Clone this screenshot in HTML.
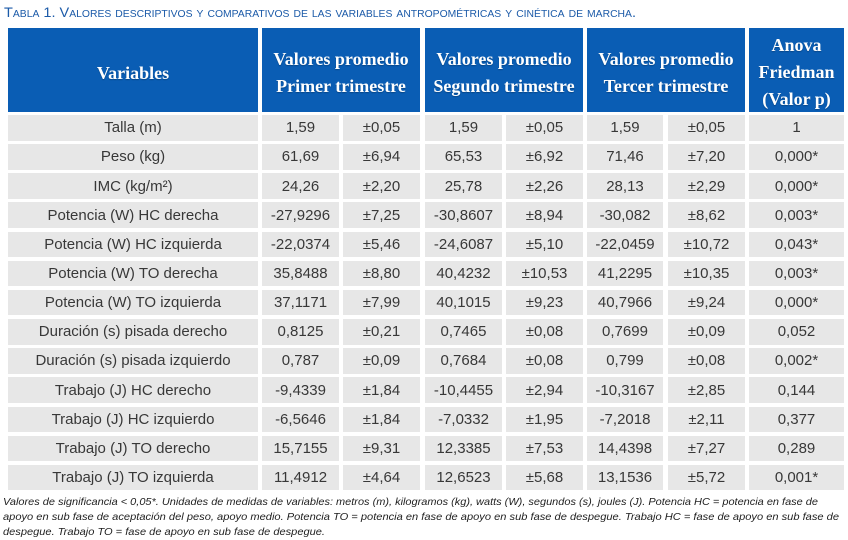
<!DOCTYPE html>
<html><head><meta charset="utf-8">
<style>
html,body{margin:0;padding:0;background:#fff;}
body{width:848px;height:540px;position:relative;overflow:hidden;}
.h{position:absolute;background:#0a5db4;color:#fff;font-family:"Liberation Serif","DejaVu Serif",serif;font-weight:bold;font-size:18px;line-height:26.5px;display:flex;align-items:center;justify-content:center;text-align:center;box-sizing:border-box;padding-top:5px;text-shadow:0 1px 1px rgba(0,0,0,0.25);top:28px;height:84px;white-space:nowrap;}
.r{position:absolute;left:0;width:848px;height:25.6px;}
.c{position:absolute;top:0;background:#e7e7e7;color:#383838;font-family:"Liberation Sans",sans-serif;font-size:15px;display:flex;align-items:center;justify-content:center;white-space:nowrap;height:25.6px;}
.c1{left:8px;width:250px;}
.c2{left:262px;width:77px;}
.c3{left:343px;width:77px;}
.c4{left:425px;width:77px;}
.c5{left:506px;width:77px;}
.c6{left:587px;width:76px;}
.c7{left:668px;width:77px;}
.c8{left:749px;width:95px;}
svg{position:absolute;left:0;top:0;}
</style></head><body>
<svg width="848" height="540">
<text x="4" y="17" fill="#1b5aa8" font-family="Liberation Sans, sans-serif" font-size="14" style="font-variant:small-caps" textLength="632" lengthAdjust="spacingAndGlyphs">Tabla 1. Valores descriptivos y comparativos de las variables antropométricas y cinética de marcha.</text>
<g font-family="Liberation Sans, sans-serif" font-size="10.5" font-style="italic" fill="#1e1e1e">
<text x="3" y="505" textLength="815" lengthAdjust="spacingAndGlyphs">Valores de significancia &lt; 0,05*. Unidades de medidas de variables: metros (m), kilogramos (kg), watts (W), segundos (s), joules (J). Potencia HC = potencia en fase de</text>
<text x="3" y="520" textLength="836" lengthAdjust="spacingAndGlyphs">apoyo en sub fase de aceptación del peso, apoyo medio. Potencia TO = potencia en fase de apoyo en sub fase de despegue. Trabajo HC = fase de apoyo en sub fase de</text>
<text x="3" y="535" textLength="322" lengthAdjust="spacingAndGlyphs">despegue. Trabajo TO = fase de apoyo en sub fase de despegue.</text>
</g>
</svg>

<div class="h" style="left:8px;width:250px;padding-top:6px;">Variables</div>
<div class="h" style="left:262px;width:158px;">Valores promedio<br>Primer trimestre</div>
<div class="h" style="left:425px;width:158px;">Valores promedio<br>Segundo trimestre</div>
<div class="h" style="left:587px;width:158px;">Valores promedio<br>Tercer trimestre</div>
<div class="h" style="left:749px;width:95px;line-height:27px;">Anova<br>Friedman<br>(Valor p)</div>

<div class="r" style="top:115px"><div class="c c1">Talla (m)</div><div class="c c2">1,59</div><div class="c c3">±0,05</div><div class="c c4">1,59</div><div class="c c5">±0,05</div><div class="c c6">1,59</div><div class="c c7">±0,05</div><div class="c c8">1</div></div>
<div class="r" style="top:144.15px"><div class="c c1">Peso (kg)</div><div class="c c2">61,69</div><div class="c c3">±6,94</div><div class="c c4">65,53</div><div class="c c5">±6,92</div><div class="c c6">71,46</div><div class="c c7">±7,20</div><div class="c c8">0,000*</div></div>
<div class="r" style="top:173.3px"><div class="c c1">IMC (kg/m²)</div><div class="c c2">24,26</div><div class="c c3">±2,20</div><div class="c c4">25,78</div><div class="c c5">±2,26</div><div class="c c6">28,13</div><div class="c c7">±2,29</div><div class="c c8">0,000*</div></div>
<div class="r" style="top:202.45px"><div class="c c1">Potencia (W) HC derecha</div><div class="c c2">-27,9296</div><div class="c c3">±7,25</div><div class="c c4">-30,8607</div><div class="c c5">±8,94</div><div class="c c6">-30,082</div><div class="c c7">±8,62</div><div class="c c8">0,003*</div></div>
<div class="r" style="top:231.6px"><div class="c c1">Potencia (W) HC izquierda</div><div class="c c2">-22,0374</div><div class="c c3">±5,46</div><div class="c c4">-24,6087</div><div class="c c5">±5,10</div><div class="c c6">-22,0459</div><div class="c c7">±10,72</div><div class="c c8">0,043*</div></div>
<div class="r" style="top:260.75px"><div class="c c1">Potencia (W) TO derecha</div><div class="c c2">35,8488</div><div class="c c3">±8,80</div><div class="c c4">40,4232</div><div class="c c5">±10,53</div><div class="c c6">41,2295</div><div class="c c7">±10,35</div><div class="c c8">0,003*</div></div>
<div class="r" style="top:289.9px"><div class="c c1">Potencia (W) TO izquierda</div><div class="c c2">37,1171</div><div class="c c3">±7,99</div><div class="c c4">40,1015</div><div class="c c5">±9,23</div><div class="c c6">40,7966</div><div class="c c7">±9,24</div><div class="c c8">0,000*</div></div>
<div class="r" style="top:319.05px"><div class="c c1">Duración (s) pisada derecho</div><div class="c c2">0,8125</div><div class="c c3">±0,21</div><div class="c c4">0,7465</div><div class="c c5">±0,08</div><div class="c c6">0,7699</div><div class="c c7">±0,09</div><div class="c c8">0,052</div></div>
<div class="r" style="top:348.2px"><div class="c c1">Duración (s) pisada izquierdo</div><div class="c c2">0,787</div><div class="c c3">±0,09</div><div class="c c4">0,7684</div><div class="c c5">±0,08</div><div class="c c6">0,799</div><div class="c c7">±0,08</div><div class="c c8">0,002*</div></div>
<div class="r" style="top:377.35px"><div class="c c1">Trabajo (J) HC derecho</div><div class="c c2">-9,4339</div><div class="c c3">±1,84</div><div class="c c4">-10,4455</div><div class="c c5">±2,94</div><div class="c c6">-10,3167</div><div class="c c7">±2,85</div><div class="c c8">0,144</div></div>
<div class="r" style="top:406.5px"><div class="c c1">Trabajo (J) HC izquierdo</div><div class="c c2">-6,5646</div><div class="c c3">±1,84</div><div class="c c4">-7,0332</div><div class="c c5">±1,95</div><div class="c c6">-7,2018</div><div class="c c7">±2,11</div><div class="c c8">0,377</div></div>
<div class="r" style="top:435.65px"><div class="c c1">Trabajo (J) TO derecho</div><div class="c c2">15,7155</div><div class="c c3">±9,31</div><div class="c c4">12,3385</div><div class="c c5">±7,53</div><div class="c c6">14,4398</div><div class="c c7">±7,27</div><div class="c c8">0,289</div></div>
<div class="r" style="top:464.8px"><div class="c c1">Trabajo (J) TO izquierda</div><div class="c c2">11,4912</div><div class="c c3">±4,64</div><div class="c c4">12,6523</div><div class="c c5">±5,68</div><div class="c c6">13,1536</div><div class="c c7">±5,72</div><div class="c c8">0,001*</div></div>
</body></html>
